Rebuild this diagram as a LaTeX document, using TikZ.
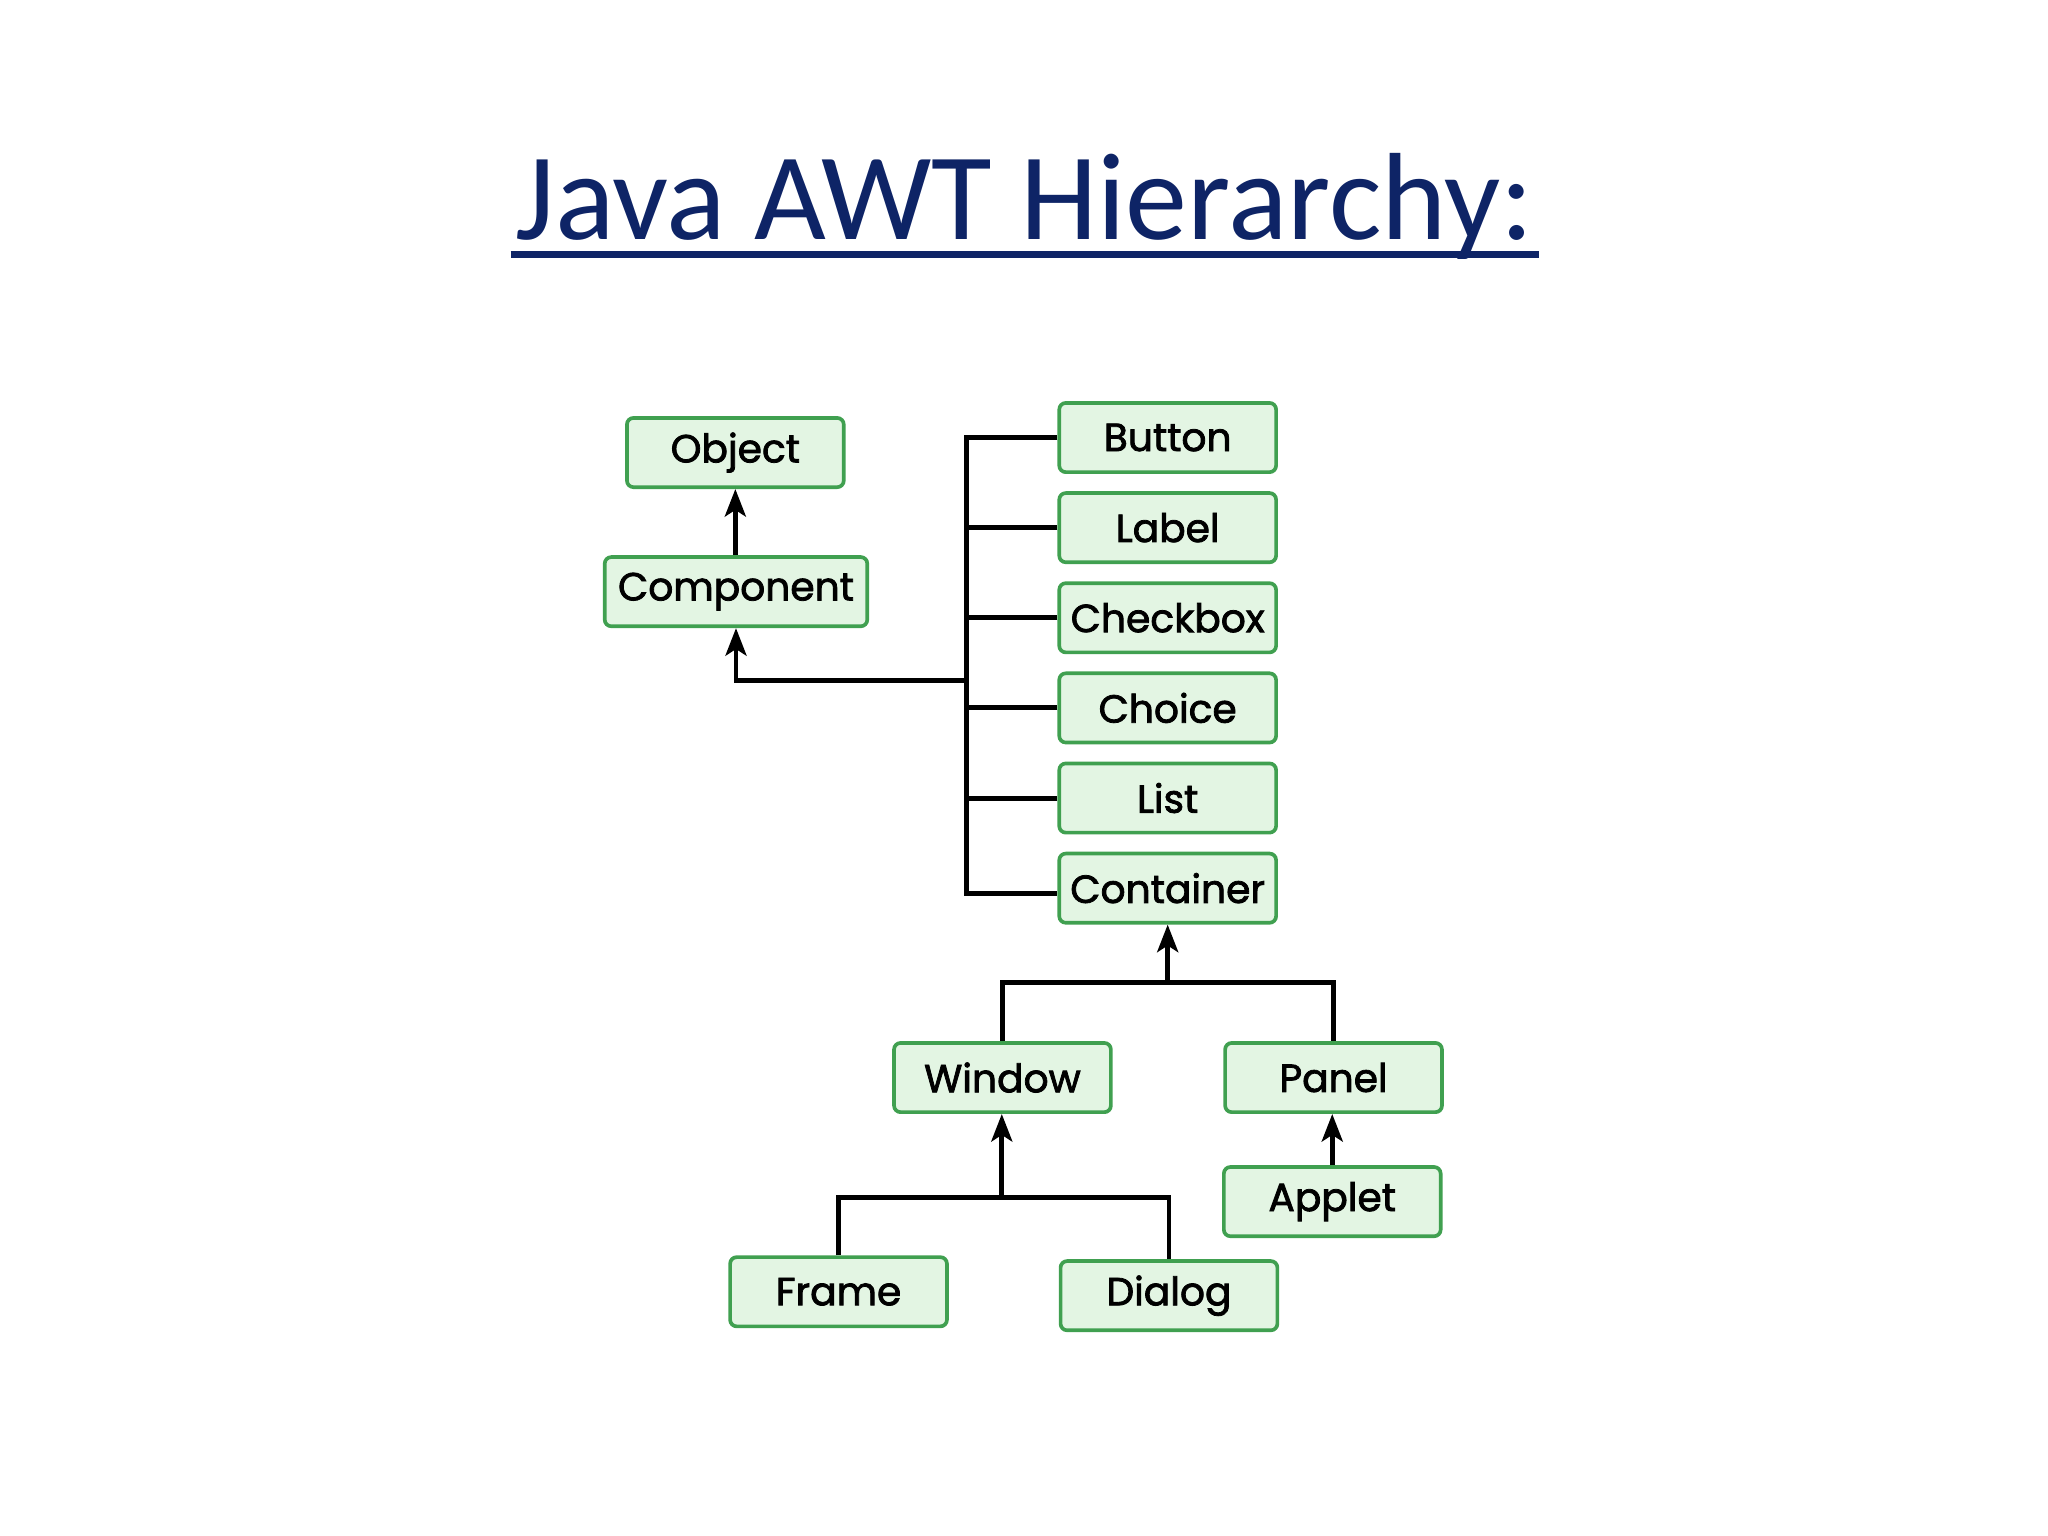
\documentclass[tikz,border=0pt]{standalone}
\usepackage{fontspec}
\setmainfont{Poppins}
\newfontfamily\nodefont{Poppins}[FakeBold=2]
\newfontfamily\titlefont{Carlito}
\usetikzlibrary{arrows.meta}
\definecolor{navy}{RGB}{14,36,102}
\definecolor{boxgreen}{RGB}{64,160,80}
\definecolor{boxfill}{RGB}{227,245,227}
\tikzset{
  cls/.style={draw=boxgreen, fill=boxfill, line width=1.4pt, rounded corners=2.5pt,
    minimum width=83pt, minimum height=26.5pt, inner sep=0pt,
    font=\nodefont\fontsize{15}{18}\selectfont},
  link/.style={line width=1.9pt, black},
  inh/.style={link, -{Stealth[length=10.5pt,width=8pt,inset=2.5pt]}}
}
\begin{document}
\begin{tikzpicture}[x=0.5pt,y=-0.5pt]
\useasboundingbox (0,0) rectangle (1568,1176);
\node[anchor=base, text=navy, font=\titlefont\fontsize{47.5}{55}\selectfont, inner sep=0pt] (title) at (784.5,183) {Java AWT Hierarchy:};
\draw[navy, line width=2.5pt] (391,195) -- (1178,195);

\node[cls] (object) at (563,346.5) {Object};
\node[cls, minimum width=100.5pt] (component) at (563.5,453) {Component};
\node[cls] (button) at (894,335) {Button};
\node[cls] (label) at (894,404) {Label};
\node[cls] (checkbox) at (894,473) {Checkbox};
\node[cls] (choice) at (894,542) {Choice};
\node[cls] (list) at (894,611) {List};
\node[cls] (container) at (894,680) {Container};
\node[cls] (window) at (767.5,825) {Window};
\node[cls] (panel) at (1021,825) {Panel};
\node[cls] (applet) at (1020,920) {Applet};
\node[cls] (frame) at (642,989) {Frame};
\node[cls] (dialog) at (895,992) {Dialog};

\coordinate (bustop) at (740,335);
\coordinate (busbot) at (740,684);
\coordinate (busmid) at (740,521);
\coordinate (cbar) at (894,752);
\coordinate (wbar) at (767,917);

% Component -> Object
\draw[inh] (component.north -| object.south) -- (object.south);
% bus
\draw[link] (button.west) -- (bustop) -- (busbot) -- (container.west |- busbot);
\draw[link] (label.west) -- (label.west -| bustop);
\draw[link] (checkbox.west) -- (checkbox.west -| bustop);
\draw[link] (choice.west) -- (choice.west -| bustop);
\draw[link] (list.west) -- (list.west -| bustop);
\draw[inh] (busmid) -- (busmid -| component.south) -- (component.south);
% Container
\draw[inh] (cbar) -- (container.south);
\draw[link] (window.north) -- (window.north |- cbar) -- (panel.north |- cbar) -- (panel.north);
% Applet -> Panel
\draw[inh] (applet.north) -- (applet.north |- panel.south);
% Window
\draw[inh] (wbar) -- (wbar |- window.south);
\draw[link] (frame.north) -- (frame.north |- wbar) -- (dialog.north |- wbar) -- (dialog.north);
\end{tikzpicture}
\end{document}
